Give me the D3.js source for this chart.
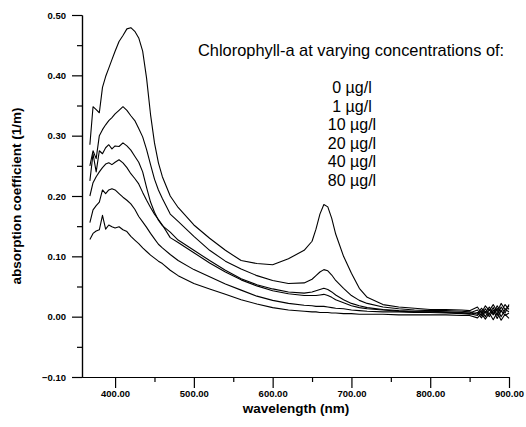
<!DOCTYPE html>
<head>
<meta charset="utf-8">
<script src="https://d3js.org/d3.v7.min.js"></script>
<style>
    body { margin: 0; background: #fff; }
    text { font-family: "Liberation Sans", Arial, sans-serif; fill: #000; }
    .axis path, .axis line { stroke: #000; stroke-width: 1.2px; }
    .axis text { font-size: 9.5px; font-weight: bold; }
    .curve { fill: none; stroke: #000; stroke-width: 1.1px; stroke-linejoin: round; }
    .axisTitle { font-size: 13.5px; font-weight: bold; }
    .note { font-size: 16px; }
</style>
</head>
<body>
<svg width="526" height="427"></svg>
<script>
    // wavelength grid (nm) shared by all curves
    var wavelengths = [368,372,376,380,384,388,392,396,400,405,410,415,420,425,430,435,440,445,450,455,460,470,480,500,520,540,560,580,600,
        620,640,650,655,660,665,670,675,680,690,700,710,720,740,760,780,800,820,840,850,860,865,870,875,880,885,890,895,900];

    // absorption coefficient (1/m)
    var conc80 = [0.285,0.348,0.343,0.338,0.380,0.398,0.412,0.426,0.440,0.456,0.466,0.477,0.479,0.473,0.462,0.440,0.395,0.335,0.288,0.255,0.232,0.200,0.181,0.152,0.130,0.110,0.093,0.088,0.086,
        0.096,0.110,0.125,0.145,0.170,0.186,0.182,0.163,0.137,0.100,0.072,0.047,0.032,0.020,0.016,0.014,0.012,0.012,0.011,0.010,0.016,0.006,0.018,0.010,0.020,0.008,0.022,0.012,0.018];
    var conc40 = [0.250,0.275,0.262,0.300,0.310,0.318,0.325,0.330,0.336,0.342,0.348,0.342,0.333,0.325,0.312,0.298,0.277,0.252,0.228,0.210,0.196,0.170,0.158,0.133,0.110,0.092,0.079,0.068,0.060,
        0.055,0.056,0.062,0.068,0.074,0.078,0.076,0.069,0.060,0.047,0.035,0.027,0.022,0.016,0.013,0.011,0.010,0.010,0.009,0.008,0.004,0.014,0.006,0.016,0.005,0.018,0.008,0.020,0.012];
    var conc20 = [0.225,0.270,0.240,0.275,0.270,0.280,0.285,0.278,0.283,0.282,0.288,0.283,0.276,0.266,0.256,0.240,0.214,0.190,0.173,0.160,0.151,0.140,0.127,0.110,0.093,0.077,0.063,0.053,0.046,
        0.041,0.039,0.041,0.043,0.045,0.047,0.045,0.041,0.036,0.028,0.022,0.018,0.015,0.012,0.010,0.009,0.009,0.008,0.007,0.006,0.011,0.002,0.013,0.004,0.015,0.002,0.016,0.006,0.020];
    var conc10 = [0.200,0.222,0.232,0.240,0.247,0.253,0.255,0.252,0.256,0.260,0.255,0.247,0.237,0.229,0.220,0.206,0.193,0.181,0.170,0.161,0.152,0.131,0.123,0.106,0.089,0.074,0.061,0.051,0.043,
        0.038,0.035,0.035,0.035,0.036,0.037,0.035,0.032,0.028,0.023,0.018,0.015,0.013,0.011,0.009,0.008,0.008,0.007,0.006,0.005,0.002,0.010,0.000,0.012,0.003,0.014,0.000,0.012,0.008];
    var conc1 = [0.156,0.177,0.184,0.190,0.210,0.204,0.210,0.212,0.210,0.204,0.198,0.193,0.187,0.178,0.166,0.157,0.148,0.138,0.129,0.120,0.114,0.103,0.093,0.078,0.066,0.054,0.044,0.034,0.027,
        0.022,0.019,0.018,0.017,0.017,0.017,0.016,0.015,0.014,0.013,0.011,0.010,0.009,0.008,0.008,0.007,0.007,0.006,0.005,0.004,0.007,-0.002,0.009,0.000,0.011,-0.003,0.010,0.002,0.006];
    var conc0 = [0.128,0.138,0.142,0.144,0.168,0.145,0.152,0.149,0.147,0.149,0.144,0.141,0.133,0.127,0.121,0.114,0.108,0.102,0.097,0.092,0.088,0.077,0.068,0.055,0.046,0.037,0.028,0.021,0.015,
        0.011,0.009,0.008,0.008,0.007,0.007,0.007,0.006,0.006,0.005,0.005,0.004,0.004,0.004,0.003,0.003,0.003,0.003,0.002,0.002,-0.002,0.005,-0.004,0.006,-0.005,0.007,-0.006,0.004,-0.003];

    var concLabels = ["0 \u00b5g/l", "1 \u00b5g/l", "10 \u00b5g/l", "20 \u00b5g/l", "40 \u00b5g/l", "80 \u00b5g/l"];
    var xMajorTicks = [400, 500, 600, 700, 800, 900];
    var xMinorTicks = [450, 550, 650, 750, 850];
    var yMajorTicks = [-0.1, 0, 0.1, 0.2, 0.3, 0.4, 0.5];
    var yMinorTicks = [-0.05, 0.05, 0.15, 0.25, 0.35, 0.45];

    var svg = d3.select("svg");

    var x = d3.scaleLinear().domain([358, 900]).range([82, 509]);
    var y = d3.scaleLinear().domain([-0.1, 0.5]).range([377, 15]);

    // x axis: long ticks with labels, short ticks between
    svg.append("g")
        .attr("class", "axis")
        .attr("transform", "translate(0,377)")
        .call(d3.axisBottom(x).tickValues(xMajorTicks).tickSize(11).tickSizeOuter(0)
            .tickPadding(2).tickFormat(d3.format(".2f")));
    svg.append("g")
        .attr("class", "axis")
        .attr("transform", "translate(0,377)")
        .call(d3.axisBottom(x).tickValues(xMinorTicks).tickSize(5).tickSizeOuter(0).tickFormat(""));

    // y axis
    svg.append("g")
        .attr("class", "axis")
        .attr("transform", "translate(82,0)")
        .call(d3.axisLeft(y).tickValues(yMajorTicks).tickSize(10).tickSizeOuter(0)
            .tickPadding(6).tickFormat(d3.format(".2f")));
    svg.append("g")
        .attr("class", "axis")
        .attr("transform", "translate(82,0)")
        .call(d3.axisLeft(y).tickValues(yMinorTicks).tickSize(5).tickSizeOuter(0).tickFormat(""));

    // the six spectra
    var seriesList = [conc0, conc1, conc10, conc20, conc40, conc80];
    var line = d3.line()
        .x(function(d, i) { return x(wavelengths[i]); })
        .y(function(d) { return y(d); });

    svg.append("g").selectAll("path")
        .data(seriesList)
        .enter().append("path")
        .attr("class", "curve")
        .attr("d", line);

    // axis titles
    svg.append("text")
        .attr("class", "axisTitle")
        .attr("transform", "translate(21,196) rotate(-90)")
        .style("text-anchor", "middle")
        .text("absorption coefficient (1/m)");

    svg.append("text")
        .attr("class", "axisTitle")
        .attr("x", 296)
        .attr("y", 413)
        .style("text-anchor", "middle")
        .text("wavelength (nm)");

    // annotation
    svg.append("text")
        .attr("class", "note")
        .attr("x", 198)
        .attr("y", 56)
        .style("font-size", "16.4px")
        .text("Chlorophyll-a at varying concentrations of:");

    svg.append("g").selectAll("text")
        .data(concLabels)
        .enter().append("text")
        .attr("class", "note")
        .attr("x", 352)
        .attr("y", function(d, i) { return 93 + i * 18.6; })
        .style("text-anchor", "middle")
        .text(function(d) { return d; });
</script>
</body>
